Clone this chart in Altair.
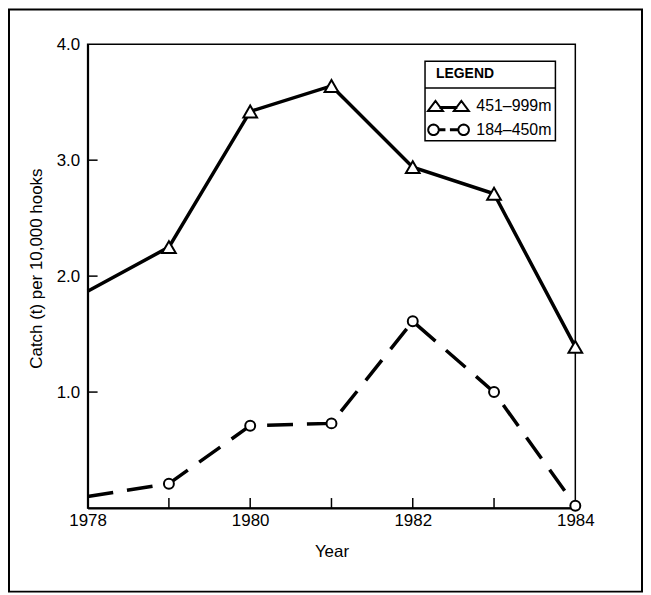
import math
import altair as alt
import pandas as pd

# ---------------- data ----------------
years = [1978, 1979, 1980, 1981, 1982, 1983, 1984]
deep_values = [1.87, 2.25, 3.42, 3.64, 2.94, 2.71, 1.39]      # 451-999m
shallow_values = [0.10, 0.21, 0.71, 0.73, 1.61, 1.00, 0.02]   # 184-450m
series_names = ["451–999m", "184–450m"]
x_tick_labels = [1978, 1980, 1982, 1984]
x_minor_ticks = [1979, 1980, 1981, 1982, 1983]
y_tick_labels = [1.0, 2.0, 3.0, 4.0]
y_minor_ticks = [1.0, 2.0, 3.0]
first_marker_year = 1979

rows = []
for y, d, s in zip(years, deep_values, shallow_values):
    rows.append({"year": y, "value": d, "series": series_names[0]})
    rows.append({"year": y, "value": s, "series": series_names[1]})
df = pd.DataFrame(rows)

FONT = "Liberation Sans"

# ---------------- custom legend symbols ----------------
R = 6.0  # sqrt(symbolSize)/2


def poly(points):
    return "M" + " L".join(f"{x / R:.4f},{y / R:.4f}" for x, y in points) + " Z"


def circle(cx, cy, rad, n=28):
    return poly([(cx + rad * math.cos(2 * math.pi * i / n),
                  cy + rad * math.sin(2 * math.pi * i / n)) for i in range(n)])


def rect(x0, x1, y0, y1):
    return poly([(x0, y0), (x1, y0), (x1, y1), (x0, y1)])


deep_symbol = " ".join([
    poly([(-20.5, 5), (-13, -5), (-5.5, 5)]),
    rect(-8.0, 8.0, 1.0, 2.0),
    poly([(5.5, 5), (13, -5), (20.5, 5)]),
])
shallow_symbol = " ".join([
    circle(-15.0, 0, 5.3),
    rect(-9.7, -4.0, -0.5, 0.5),
    rect(2.5, 9.7, -0.5, 0.5),
    circle(15.3, 0, 5.3),
])

# ---------------- encodings ----------------
x_scale = alt.Scale(domain=[1978, 1984], nice=False, zero=False)
y_scale = alt.Scale(domain=[0, 4], nice=False, zero=True)

x_enc = alt.X("year:Q", scale=x_scale,
              axis=alt.Axis(values=x_tick_labels, format="d", title="Year",
                            ticks=False, grid=False, labelPadding=5,
                            labelFlush=False, titlePadding=15))
y_enc = alt.Y("value:Q", scale=y_scale,
              axis=alt.Axis(values=y_tick_labels, format=".1f",
                            title="Catch (t) per 10,000 hooks",
                            ticks=False, grid=False, labelPadding=8,
                            labelFlush=False,
                            titleX=-51, titleY=225, titleAngle=270,
                            titleBaseline="middle", titleAlign="center"))

base = alt.Chart(df)
is_deep = alt.datum.series == series_names[0]
is_shallow = alt.datum.series == series_names[1]

line_deep = base.transform_filter(is_deep).mark_line(
    color="black", strokeWidth=3.5, strokeJoin="miter"
).encode(x=x_enc, y=y_enc)

line_shallow = base.transform_filter(is_shallow).mark_line(
    color="black", strokeWidth=3.5, strokeDash=[26, 14], strokeCap="butt"
).encode(x=x_enc, y=y_enc)

pts_deep = base.transform_filter(is_deep).transform_filter(
    alt.datum.year >= first_marker_year
).mark_point(shape="triangle-up", size=190, filled=True, fill="white",
             stroke="black", strokeWidth=2, opacity=1).encode(x=x_enc, y=y_enc)

pts_shallow = base.transform_filter(is_shallow).transform_filter(
    alt.datum.year >= first_marker_year
).mark_point(shape="circle", size=100, filled=True, fill="white",
             stroke="black", strokeWidth=2, opacity=1).encode(x=x_enc, y=y_enc)

legend_layer = base.mark_point(opacity=0, filled=False, color="black",
                               strokeWidth=2).encode(
    x=x_enc, y=y_enc,
    shape=alt.Shape("series:N",
                    scale=alt.Scale(domain=series_names,
                                    range=[deep_symbol, shallow_symbol]),
                    legend=alt.Legend(
                        title="LEGEND", orient="none", legendX=350, legendY=23,
                        padding=0, titleFont=FONT, titleFontSize=14,
                        titleFontWeight="bold", titleColor="black",
                        titlePadding=17, labelFont=FONT, labelFontSize=16,
                        labelColor="black", symbolSize=144,
                        symbolStrokeWidth=2, symbolStrokeColor="black",
                        symbolOpacity=1, symbolOffset=4.5, labelOffset=20,
                        rowPadding=5)),
)

# ---------------- decorations ----------------
one = alt.Data(values=[{"k": 1}])

outer_frame = alt.Chart(one).mark_rect(
    fill="transparent", stroke="black", strokeWidth=2
).encode(x=alt.value(-79), x2=alt.value(557), y=alt.value(-35), y2=alt.value(550))

legend_box = alt.Chart(one).mark_rect(
    fill="white", stroke="black", strokeWidth=1.5
).encode(x=alt.value(339), x2=alt.value(470), y=alt.value(17), y2=alt.value(97))

legend_sep = alt.Chart(one).mark_rule(color="black", strokeWidth=1.5).encode(
    x=alt.value(339), x2=alt.value(470), y=alt.value(44))

y_ticks = alt.Chart(pd.DataFrame({"value": y_minor_ticks})).mark_rule(
    color="black", strokeWidth=1.5
).encode(y=y_enc, x=alt.value(0), x2=alt.value(10))

x_ticks = alt.Chart(pd.DataFrame({"year": x_minor_ticks})).mark_rule(
    color="black", strokeWidth=1.5
).encode(x=x_enc, y=alt.value(466), y2=alt.value(456))

chart = alt.layer(
    outer_frame, legend_box, legend_sep, y_ticks, x_ticks,
    line_deep, line_shallow, pts_deep, pts_shallow, legend_layer
).properties(
    width=490, height=466,
    autosize=alt.AutoSizeParams(type="none"),
    padding={"left": 80, "top": 35, "right": 68, "bottom": 86},
    background="white",
).configure_view(
    stroke="black", strokeWidth=1.5
).configure_axis(
    domainColor="black", domainWidth=2,
    labelFont=FONT, labelFontSize=17, labelColor="black",
    titleFont=FONT, titleFontSize=17, titleFontWeight="normal",
    titleColor="black",
)

chart.save("out.html", embed_options={"renderer": "svg", "actions": False})
